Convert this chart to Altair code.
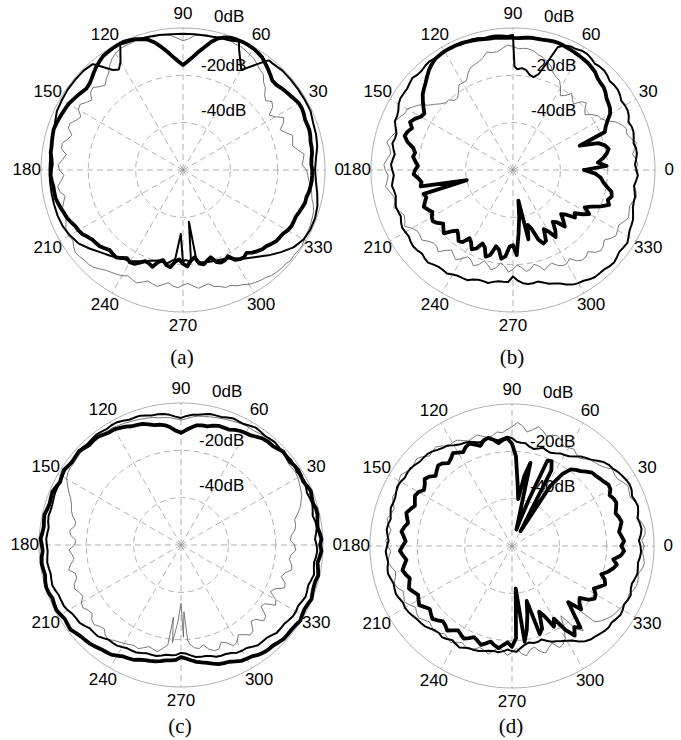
import altair as alt
import numpy as np
import pandas as pd

# ---------------------------------------------------------------------------
# Radiation patterns (dB, 0 dB at the rim, -60 dB at the centre).
# *_THIN / *_MED / *_THICK are sampled at 0, 5, ..., 355 degrees and the
# *_MID lists at 2.5, 7.5, ..., 357.5 degrees.  Each row covers 60 degrees.
# ---------------------------------------------------------------------------
ANGLES = list(range(0, 360, 5))
MID_ANGLES = [a + 2.5 for a in ANGLES]

# (a)
A_THIN = [
    -7.8, -9.0, -10.8, -12.0, -13.8, -13.2, -15.0, -13.8, -14.4, -10.8, -7.2, -5.4,
    -3.6, -2.4, -1.8, -1.8, -2.1, -3.0, -5.4, -3.0, -2.1, -1.8, -1.8, -2.1,
    -3.0, -6.0, -9.6, -10.2, -9.0, -10.2, -9.0, -10.2, -8.4, -9.6, -7.8, -9.0,
    -7.8, -8.4, -7.2, -7.8, -6.0, -5.4, -4.2, -3.6, -3.0, -3.6, -5.4, -7.2,
    -8.4, -9.0, -9.6, -10.2, -10.8, -10.8, -11.4, -10.8, -10.2, -9.0, -7.2, -6.0,
    -4.2, -3.0, -1.8, -1.2, -0.6, -0.6, -0.9, -1.2, -1.8, -3.0, -4.8, -6.6,
]
A_THIN_MID = [
    -9.6, -8.4, -12.6, -11.4, -15.6, -12.0, -16.8, -12.6, -13.2, -9.6, -6.6, -4.2,
    -3.0, -2.4, -1.5, -2.4, -2.4, -4.5, -4.2, -2.4, -2.4, -1.5, -2.1, -2.4,
    -4.2, -8.4, -11.4, -8.4, -11.4, -8.4, -11.4, -8.4, -10.8, -7.8, -10.2, -7.2,
    -9.6, -6.6, -9.0, -6.6, -6.6, -4.2, -4.8, -2.7, -3.6, -4.2, -6.6, -7.8,
    -9.6, -8.4, -10.8, -9.6, -12.0, -10.2, -12.0, -9.6, -10.8, -8.4, -7.2, -5.4,
    -3.6, -2.7, -1.5, -1.2, -0.9, -0.3, -1.2, -1.5, -2.1, -4.2, -5.4, -7.2,
]
A_MED = [
    -4.2, -3.6, -2.4, -1.8, -1.5, -0.6, -0.6, -0.6, -0.6, -0.6, -1.2, -5.4,
    -10.8, -3.9, -1.8, -2.1, -2.4, -2.4, -2.4, -2.4, -2.1, -1.8, -1.5, -1.0,
    -7.2, -8.4, -1.8, -0.6, -0.6, -0.6, -0.9, -1.2, -2.4, -3.0, -3.6, -3.6,
    -3.6, -3.6, -3.6, -3.6, -3.6, -3.9, -4.8, -6.0, -8.4, -10.8, -12.6, -14.4,
    -15.6, -17.4, -19.2, -20.4, -19.8, -22.2, -21.0, -21.0, -20.4, -19.8, -19.2, -18.6,
    -16.8, -14.4, -12.0, -9.0, -6.0, -3.0, -1.2, -0.6, -0.6, -1.2, -2.4, -3.6,
]
A_MED_EXTRA_ANG = [52, 59.5, 66.5, 116.5, 122.5, 130.5, 268, 271.5, 276.5, 278.5]
A_MED_EXTRA_DB = [-1.2, -10.8, -0.8, -0.6, -9.6, -1.2, -33.0, -22.0, -38.0, -21.0]
A_THICK = [
    -5.4, -5.5, -4.8, -4.3, -4.1, -3.7, -3.5, -4.9, -6.0, -6.6, -4.2, -1.8,
    -0.7, -0.3, -0.6, -2.4, -7.2, -12.0, -15.6, -12.0, -7.2, -3.0, -1.2, -0.3,
    -0.6, -1.2, -3.0, -5.4, -6.6, -5.4, -4.2, -3.6, -3.0, -3.0, -3.6, -4.2,
    -4.2, -4.4, -4.8, -5.4, -6.6, -7.8, -9.0, -10.8, -12.0, -13.2, -13.8, -14.6,
    -15.0, -16.8, -18.0, -19.8, -19.2, -21.0, -20.4, -21.6, -19.8, -20.4, -18.6, -18.0,
    -16.2, -15.0, -14.4, -12.6, -11.4, -10.2, -9.0, -8.4, -7.8, -6.6, -6.0, -5.4,
]
A_THICK_MID = [
    -5.7, -5.0, -4.8, -4.0, -4.2, -3.4, -4.2, -5.4, -6.6, -5.4, -3.0, -1.2,
    -0.4, -0.4, -1.2, -4.5, -9.6, -14.0, -14.0, -9.6, -4.8, -2.0, -0.7, -0.4,
    -0.9, -2.1, -4.2, -6.3, -6.0, -4.8, -3.9, -3.3, -2.7, -3.3, -3.6, -4.5,
    -4.0, -4.8, -4.9, -6.0, -7.0, -8.7, -9.6, -11.7, -12.3, -14.1, -13.5, -15.9,
    -15.3, -18.3, -17.1, -21.0, -18.6, -22.2, -19.2, -22.8, -19.2, -21.3, -17.7, -18.9,
    -15.3, -15.9, -13.5, -12.3, -10.5, -9.9, -8.4, -8.4, -7.2, -6.6, -5.7, -5.4,
]

# (b)
B_THIN = [
    -8.4, -7.8, -7.8, -8.4, -9.0, -12.0, -16.8, -19.2, -20.4, -19.2, -21.0, -21.6,
    -19.8, -16.8, -13.2, -10.8, -9.0, -8.4, -7.8, -8.4, -9.6, -10.8, -12.6, -15.0,
    -17.4, -19.8, -21.6, -19.8, -16.8, -12.0, -8.4, -7.2, -7.2, -6.6, -7.2, -6.6,
    -6.0, -6.6, -7.2, -8.4, -9.0, -9.6, -10.8, -12.0, -13.2, -14.4, -15.6, -16.2,
    -16.8, -18.0, -17.4, -18.6, -18.0, -19.2, -18.0, -18.6, -17.4, -18.0, -16.8, -15.6,
    -14.4, -13.2, -12.0, -10.8, -10.2, -9.6, -9.0, -8.4, -7.8, -7.8, -7.2, -7.8,
]
B_THIN_MID = [
    -7.2, -9.0, -6.6, -9.6, -10.2, -15.0, -17.4, -21.6, -18.0, -22.2, -19.2, -22.8,
    -17.4, -15.6, -12.0, -10.2, -8.4, -8.7, -7.2, -9.6, -9.0, -12.0, -13.2, -17.4,
    -17.4, -21.6, -19.8, -18.6, -15.0, -10.2, -8.4, -6.0, -7.8, -5.4, -7.8, -5.4,
    -7.2, -5.7, -8.4, -7.2, -10.2, -8.4, -12.0, -11.4, -14.4, -13.2, -17.4, -15.0,
    -18.6, -16.2, -19.8, -16.8, -20.4, -16.8, -19.8, -16.8, -19.2, -15.6, -17.4, -14.4,
    -15.6, -12.0, -13.2, -9.6, -11.4, -8.4, -9.6, -7.2, -8.4, -6.6, -8.4, -7.2,
]
B_MED = [
    -7.8, -7.8, -7.2, -7.2, -6.6, -6.0, -5.4, -4.8, -4.2, -3.6, -3.0, -2.4,
    -1.8, -2.4, -4.8, -18.0, -19.2, -16.8, -3.0, -3.0, -2.7, -2.4, -2.4, -2.1,
    -2.1, -2.4, -2.4, -3.0, -3.0, -3.6, -4.2, -6.0, -7.2, -8.4, -8.7, -9.0,
    -9.0, -9.0, -9.0, -8.7, -8.4, -7.8, -7.5, -7.2, -7.2, -7.2, -7.8, -8.4,
    -9.0, -9.6, -10.8, -11.4, -12.0, -12.6, -15.0, -12.0, -11.4, -10.8, -9.0, -6.6,
    -4.8, -3.6, -3.0, -2.4, -2.7, -3.0, -3.6, -4.8, -6.0, -7.2, -7.8, -7.8,
]
B_MED_MID = [
    -8.4, -7.2, -7.8, -6.6, -7.2, -5.4, -5.7, -4.2, -4.5, -3.0, -3.3, -1.8,
    -2.4, -3.0, -12.6, -19.8, -17.4, -17.4, -3.3, -2.7, -3.0, -2.1, -2.7, -1.8,
    -2.4, -2.1, -3.0, -2.4, -3.6, -3.6, -5.4, -6.0, -8.4, -7.8, -9.6, -8.4,
    -9.6, -8.4, -9.3, -8.1, -8.7, -7.2, -7.8, -6.9, -7.8, -6.9, -8.4, -8.1,
    -9.6, -9.6, -11.4, -11.1, -12.6, -12.6, -13.2, -11.4, -11.7, -9.6, -8.1, -5.4,
    -4.5, -3.0, -3.0, -2.1, -3.3, -2.7, -4.5, -5.1, -6.9, -7.2, -8.4, -7.2,
]
B_MED_EXTRA_ANG = [89.2]
B_MED_EXTRA_DB = [-16.2]
B_THICK = [
    -30.0, -24.0, -19.8, -19.8, -30.0, -16.8, -12.6, -10.8, -9.0, -7.8, -6.0, -4.8,
    -4.2, -3.6, -3.0, -3.3, -3.6, -3.9, -4.2, -3.9, -3.6, -3.0, -2.4, -2.1,
    -2.1, -2.7, -4.8, -7.8, -10.2, -13.8, -15.0, -12.0, -12.6, -13.8, -18.0, -18.6,
    -18.6, -19.8, -20.4, -21.0, -20.4, -20.4, -20.4, -21.0, -21.6, -23.4, -24.0, -22.8,
    -24.6, -23.4, -25.2, -22.8, -25.8, -23.4, -28.2, -33.0, -46.8, -36.0, -28.8, -27.0,
    -30.0, -28.8, -31.2, -30.0, -30.6, -28.2, -22.8, -23.4, -16.8, -16.8, -19.8, -22.8,
]
B_THICK_MID = [
    -20.4, -21.6, -18.6, -22.2, -18.0, -15.0, -11.4, -10.2, -8.1, -7.2, -5.4, -4.5,
    -3.9, -3.3, -3.0, -3.6, -3.6, -4.2, -4.0, -3.6, -3.3, -2.7, -2.1, -2.1,
    -2.4, -3.6, -6.3, -9.0, -12.0, -15.6, -13.2, -13.8, -12.0, -16.8, -17.4, -19.8,
    -18.0, -21.0, -40.0, -21.6, -19.2, -21.6, -19.8, -22.8, -20.4, -25.2, -22.2, -25.8,
    -22.2, -26.4, -21.6, -27.0, -22.2, -27.6, -24.0, -40.0, -30.0, -34.0, -26.4, -31.8,
    -26.4, -32.4, -27.6, -32.4, -27.0, -25.2, -25.8, -19.8, -18.0, -17.4, -21.6, -25.2,
]

# (c)
C_THIN = [
    -12.0, -13.2, -10.8, -9.0, -6.0, -4.2, -3.0, -3.0, -2.4, -2.4, -2.1, -2.4,
    -2.7, -3.0, -3.6, -4.2, -4.8, -5.7, -7.2, -6.0, -5.4, -4.5, -3.9, -3.3,
    -2.7, -2.7, -2.4, -2.4, -2.7, -3.0, -4.2, -7.8, -10.8, -12.6, -14.4, -13.2,
    -15.0, -13.8, -12.6, -13.8, -12.0, -12.6, -11.4, -12.0, -10.8, -11.4, -10.2, -10.8,
    -12.0, -13.2, -13.8, -14.4, -15.6, -18.6, -35.4, -18.0, -15.6, -14.4, -13.2, -14.4,
    -12.6, -13.8, -12.6, -15.6, -13.2, -16.8, -13.8, -16.2, -13.2, -14.4, -12.6, -13.2,
]
C_THIN_MID = [
    -13.8, -11.4, -10.8, -7.2, -4.8, -3.6, -2.7, -3.0, -2.1, -2.4, -2.1, -2.7,
    -2.7, -3.3, -3.9, -4.5, -5.1, -6.6, -6.6, -5.7, -4.8, -4.2, -3.6, -3.0,
    -2.7, -2.4, -2.4, -2.4, -3.0, -3.3, -6.0, -9.6, -11.4, -14.4, -12.6, -15.6,
    -12.6, -14.4, -11.4, -13.8, -11.4, -13.2, -10.8, -12.6, -10.2, -12.0, -9.6, -11.4,
    -12.6, -12.6, -15.0, -13.8, -17.4, -27.0, -31.8, -16.2, -16.8, -13.2, -15.6, -12.0,
    -15.0, -12.0, -16.2, -12.6, -17.4, -12.6, -17.4, -12.6, -15.6, -12.0, -13.8, -11.4,
]
C_THIN_EXTRA_ANG = [264, 271.5, 274]
C_THIN_EXTRA_DB = [-29.4, -21.0, -19.8]
C_MED = [
    -2.7, -2.7, -2.4, -2.4, -2.1, -1.8, -1.8, -1.5, -1.5, -1.5, -1.5, -1.5,
    -1.8, -2.4, -2.7, -3.3, -3.9, -4.8, -6.3, -4.8, -3.9, -3.3, -2.7, -2.1,
    -1.5, -1.5, -1.5, -1.5, -1.8, -1.8, -2.1, -2.4, -2.7, -3.0, -3.0, -3.3,
    -3.3, -3.3, -3.3, -3.3, -3.6, -4.2, -4.8, -6.0, -6.9, -7.8, -8.7, -9.6,
    -10.2, -10.8, -11.4, -12.0, -12.6, -13.2, -14.4, -13.2, -12.0, -11.4, -10.2, -9.6,
    -8.4, -7.5, -6.6, -6.0, -5.1, -4.5, -3.9, -3.6, -3.3, -3.0, -3.0, -2.7,
]
C_MED_MID = [
    -3.3, -2.1, -3.0, -1.8, -2.4, -1.2, -2.1, -1.2, -1.8, -1.2, -1.8, -1.2,
    -2.4, -2.1, -3.3, -3.3, -4.5, -5.4, -5.7, -4.2, -3.9, -2.7, -2.7, -1.5,
    -1.8, -1.2, -1.8, -1.2, -2.1, -1.8, -2.4, -2.4, -3.0, -2.7, -3.6, -3.0,
    -3.6, -3.0, -3.6, -3.0, -4.2, -4.2, -5.7, -6.0, -7.8, -7.8, -9.6, -9.6,
    -10.8, -10.8, -12.0, -12.0, -13.2, -13.5, -14.1, -12.3, -12.0, -10.5, -10.2, -8.7,
    -8.4, -6.6, -6.6, -5.1, -5.1, -3.9, -4.2, -3.0, -3.6, -2.4, -3.3, -2.4,
]
C_THICK = [
    -1.2, -1.2, -1.5, -0.9, -1.2, -1.2, -1.5, -1.5, -1.8, -2.4, -3.0, -4.2,
    -5.4, -6.3, -7.2, -7.8, -8.7, -10.2, -12.6, -10.2, -8.4, -7.2, -6.0, -4.8,
    -3.6, -3.0, -2.4, -2.1, -1.8, -1.8, -1.8, -1.8, -1.5, -1.5, -1.2, -1.2,
    -1.2, -0.9, -0.9, -0.6, -0.6, -0.9, -1.2, -1.5, -2.1, -3.0, -3.9, -4.8,
    -6.0, -7.2, -8.4, -9.3, -10.2, -11.1, -12.6, -11.1, -9.6, -8.1, -6.9, -5.7,
    -4.5, -3.3, -2.4, -1.8, -1.2, -0.9, -0.9, -0.9, -0.9, -1.2, -1.2, -1.2,
]
C_THICK_MID = [
    -0.6, -1.8, -0.9, -1.5, -0.6, -1.8, -1.2, -2.1, -1.5, -3.0, -3.3, -5.1,
    -5.7, -7.2, -7.2, -8.7, -9.0, -11.4, -11.7, -9.0, -8.1, -6.3, -5.7, -4.2,
    -3.6, -2.4, -2.7, -1.5, -2.1, -1.2, -2.4, -1.2, -1.8, -0.9, -1.5, -0.6,
    -1.5, -0.6, -1.2, -0.3, -1.2, -0.6, -1.8, -1.2, -2.7, -3.3, -4.5, -5.1,
    -6.9, -7.5, -9.0, -9.6, -10.8, -11.4, -12.0, -10.2, -9.0, -7.2, -6.6, -4.8,
    -4.2, -2.7, -2.4, -1.2, -1.2, -0.3, -1.2, -0.3, -1.2, -0.6, -1.8, -0.6,
]

# (d)
D_THIN = [
    -4.2, -3.6, -4.2, -4.8, -4.8, -5.4, -6.0, -7.2, -8.4, -10.2, -12.0, -12.6,
    -12.0, -10.8, -10.2, -9.6, -10.2, -9.0, -9.6, -12.0, -12.6, -12.0, -11.4, -10.8,
    -9.6, -8.4, -7.8, -6.6, -6.0, -5.4, -4.8, -6.0, -6.6, -7.2, -6.9, -7.8,
    -7.5, -7.8, -8.4, -9.0, -8.4, -9.6, -10.2, -10.8, -11.4, -12.0, -12.0, -12.6,
    -12.6, -13.2, -13.8, -14.4, -15.0, -15.6, -15.0, -14.4, -15.6, -13.8, -14.4, -12.6,
    -15.0, -24.0, -13.2, -27.0, -10.8, -8.4, -7.2, -6.0, -5.4, -4.8, -4.2, -4.2,
]
D_THIN_MID = [
    -5.1, -3.3, -5.4, -3.9, -6.0, -4.8, -7.2, -6.6, -9.6, -10.8, -13.2, -11.4,
    -12.6, -9.6, -11.4, -8.4, -11.4, -7.8, -10.8, -11.4, -13.2, -10.8, -12.0, -9.6,
    -10.2, -7.2, -8.4, -5.4, -6.6, -4.2, -6.0, -5.4, -7.8, -6.0, -8.4, -6.6,
    -8.7, -7.2, -9.6, -7.8, -10.2, -8.7, -11.7, -10.2, -12.6, -11.1, -13.2, -11.7,
    -14.1, -12.6, -15.0, -13.2, -16.8, -13.8, -16.8, -13.2, -16.2, -12.6, -15.6, -13.2,
    -19.2, -16.2, -20.4, -12.6, -9.6, -7.8, -6.6, -6.6, -4.8, -5.4, -3.6, -4.8,
]
D_MED = [
    -5.7, -5.4, -5.1, -4.8, -4.5, -4.2, -4.2, -5.4, -6.6, -9.0, -11.4, -13.8,
    -15.6, -16.8, -17.1, -17.4, -17.4, -16.2, -14.4, -14.4, -14.1, -13.8, -13.2, -12.0,
    -10.8, -9.3, -7.8, -7.2, -6.6, -6.0, -5.7, -6.0, -6.6, -6.9, -6.9, -7.2,
    -7.2, -6.9, -6.6, -6.9, -7.2, -7.5, -7.8, -8.7, -9.6, -10.8, -12.0, -12.0,
    -12.3, -12.6, -13.2, -14.1, -15.0, -15.3, -15.6, -16.8, -18.6, -18.0, -17.4, -15.6,
    -13.8, -10.8, -8.4, -7.5, -6.6, -6.3, -6.0, -6.0, -6.6, -6.3, -6.0, -5.7,
]
D_MED_MID = [
    -6.3, -4.8, -5.7, -4.2, -5.1, -3.9, -4.8, -6.3, -7.5, -10.5, -12.3, -15.0,
    -15.9, -17.4, -16.5, -18.0, -16.2, -15.9, -13.8, -15.0, -13.5, -14.1, -12.3, -11.7,
    -9.6, -8.7, -7.2, -7.2, -6.0, -6.3, -5.4, -6.6, -6.3, -7.5, -6.6, -7.8,
    -6.6, -7.2, -6.3, -7.5, -6.9, -8.1, -8.1, -9.3, -9.9, -11.7, -11.4, -12.9,
    -11.7, -13.2, -13.5, -14.7, -14.7, -16.2, -15.3, -18.0, -18.0, -18.6, -16.2, -14.7,
    -12.6, -9.3, -8.1, -6.9, -6.9, -5.7, -6.6, -5.7, -6.9, -5.7, -6.3, -5.4,
]
D_THICK = [
    -13.8, -13.5, -13.5, -13.2, -13.2, -12.6, -12.0, -12.6, -13.8, -15.6, -18.0, -22.8,
    -52.8, -20.4, -39.0, -52.8, -30.0, -33.0, -16.8, -15.0, -14.4, -13.8, -14.4, -13.8,
    -14.4, -15.0, -14.4, -15.0, -14.4, -15.0, -14.4, -14.7, -14.4, -14.1, -13.8, -14.1,
    -13.8, -13.8, -13.8, -13.5, -13.8, -14.1, -14.4, -15.0, -15.3, -15.6, -16.2, -16.5,
    -16.8, -17.1, -17.4, -17.4, -17.4, -18.0, -17.4, -42.0, -24.0, -36.0, -22.8, -27.0,
    -24.6, -13.8, -15.0, -26.4, -22.8, -20.4, -19.2, -19.2, -18.3, -18.0, -15.0, -13.8,
]
D_THICK_MID = [
    -12.6, -14.4, -12.6, -14.1, -12.3, -13.5, -11.7, -13.2, -14.1, -17.1, -19.2, -30.0,
    -24.0, -21.0, -48.0, -24.0, -40.0, -22.0, -14.4, -16.2, -13.2, -15.6, -13.2, -15.3,
    -13.5, -15.9, -13.8, -16.2, -13.5, -15.9, -13.8, -15.6, -13.2, -15.0, -12.9, -15.0,
    -12.6, -15.0, -12.6, -14.7, -12.9, -15.3, -13.5, -16.2, -14.4, -16.8, -15.0, -17.7,
    -15.9, -18.3, -16.2, -18.6, -16.5, -19.2, -21.0, -19.2, -30.0, -21.0, -30.0, -21.6,
    -18.0, -16.8, -21.6, -20.4, -24.0, -18.6, -21.0, -17.4, -20.4, -16.2, -16.8, -12.6,
]

CAPTIONS = ["(a)", "(b)", "(c)", "(d)"]
ANGLE_TICKS = list(range(0, 360, 30))
RING_LEVELS = [-40, -20]          # dashed rings
RING_LABELS = ["0dB", "-20dB", "-40dB"]

# ---------------------------------------------------------------------------
# Layout (pixels)
# ---------------------------------------------------------------------------
W, H = 681, 740
R = 142.0                      # radius of the 0 dB rim
DB_MIN = -60.0
CENTERS = {"a": (183, 170), "b": (513, 170), "c": (181, 545), "d": (512, 546)}
CAPTION_BASE = {"a": 364, "b": 364, "c": 733, "d": 733}
RING_LABEL_OFFS = [(31, 148), (18, 99), (18, 54)]
DASH = [6, 4]


def radius(db):
    return (np.asarray(db, float) - DB_MIN) / (-DB_MIN) * R


def trace(panel, style, values, mid=(), extra_ang=(), extra_db=()):
    ang = np.array(ANGLES + (MID_ANGLES if len(mid) else []) + list(extra_ang), float)
    val = np.array(list(values) + list(mid) + list(extra_db), float)
    order = np.argsort(ang, kind="stable")
    ang, val = ang[order], val[order]
    ang = np.append(ang, ang[0] + 360)
    val = np.append(val, val[0])
    cx, cy = CENTERS[panel]
    r = radius(val)
    t = np.deg2rad(ang)
    return pd.DataFrame({
        "key": f"{panel}-{style}", "style": style, "i": np.arange(len(ang)),
        "x": cx + r * np.cos(t), "y": cy - r * np.sin(t),
    })


series = pd.concat([
    trace("a", "thin", A_THIN, A_THIN_MID),
    trace("a", "med", A_MED, (), A_MED_EXTRA_ANG, A_MED_EXTRA_DB),
    trace("a", "thick", A_THICK, A_THICK_MID),
    trace("b", "thin", B_THIN, B_THIN_MID),
    trace("b", "med", B_MED, B_MED_MID, B_MED_EXTRA_ANG, B_MED_EXTRA_DB),
    trace("b", "thick", B_THICK, B_THICK_MID),
    trace("c", "thin", C_THIN, C_THIN_MID, C_THIN_EXTRA_ANG, C_THIN_EXTRA_DB),
    trace("c", "med", C_MED, C_MED_MID),
    trace("c", "thick", C_THICK, C_THICK_MID),
    trace("d", "thin", D_THIN, D_THIN_MID),
    trace("d", "med", D_MED, D_MED_MID),
    trace("d", "thick", D_THICK, D_THICK_MID),
], ignore_index=True)

# polar grid: rim, dashed rings, dashed spokes, labels
circ_t = np.deg2rad(np.arange(0, 361, 2))
rim_rows, ring_rows, spoke_rows, tick_rows, lab_rows, cap_rows = [], [], [], [], [], []
for p, (cx, cy) in CENTERS.items():
    for k, t in enumerate(circ_t):
        rim_rows.append({"key": p, "i": k, "x": cx + R * np.cos(t), "y": cy - R * np.sin(t)})
        for lv in RING_LEVELS:
            rr = float(radius(lv))
            ring_rows.append({"key": f"{p}{lv}", "i": k,
                              "x": cx + rr * np.cos(t), "y": cy - rr * np.sin(t)})
    for a in ANGLE_TICKS:
        t = np.deg2rad(a)
        spoke_rows.append({"x": cx, "y": cy, "x2": cx + R * np.cos(t), "y2": cy - R * np.sin(t)})
        tick_rows.append({"x": cx + 1.1 * R * np.cos(t), "y": cy - 1.1 * R * np.sin(t),
                          "text": str(a)})
    for txt, (dx, dy) in zip(RING_LABELS, RING_LABEL_OFFS):
        lab_rows.append({"x": cx + dx, "y": cy - dy, "text": txt})
for p, txt in zip(CENTERS, CAPTIONS):
    cap_rows.append({"x": CENTERS[p][0] - 1, "y": CAPTION_BASE[p], "text": txt})

X = alt.X("x:Q", scale=alt.Scale(domain=[0, W], nice=False, zero=False), axis=None)
Y = alt.Y("y:Q", scale=alt.Scale(domain=[0, H], nice=False, zero=False, reverse=True), axis=None)

rim = alt.Chart(pd.DataFrame(rim_rows)).mark_line(color="#9c9c9c", strokeWidth=0.8).encode(
    x=X, y=Y, detail="key:N", order="i:Q")
rings = alt.Chart(pd.DataFrame(ring_rows)).mark_line(
    color="#8f8f8f", strokeWidth=0.7, strokeDash=DASH).encode(x=X, y=Y, detail="key:N", order="i:Q")
spokes = alt.Chart(pd.DataFrame(spoke_rows)).mark_rule(
    color="#8f8f8f", strokeWidth=0.7, strokeDash=DASH).encode(x=X, y=Y, x2="x2:Q", y2="y2:Q")
ticks = alt.Chart(pd.DataFrame(tick_rows)).mark_text(
    font="Liberation Sans", fontSize=17, color="black", align="center", baseline="middle"
).encode(x=X, y=Y, text="text:N")
ring_labels = alt.Chart(pd.DataFrame(lab_rows)).mark_text(
    font="Liberation Sans", fontSize=17, color="black", align="left", baseline="alphabetic"
).encode(x=X, y=Y, text="text:N")
captions = alt.Chart(pd.DataFrame(cap_rows)).mark_text(
    font="Liberation Serif", fontSize=21, color="black", align="center", baseline="alphabetic"
).encode(x=X, y=Y, text="text:N")


def pattern(style, color, width):
    return alt.Chart(series[series["style"] == style]).mark_line(
        color=color, strokeWidth=width, strokeJoin="round", strokeCap="round"
    ).encode(x=X, y=Y, detail="key:N", order="i:Q")


chart = alt.layer(
    rings, spokes, rim, ticks, ring_labels,
    pattern("thin", "#6a6a6a", 0.9),
    pattern("med", "black", 2.0),
    pattern("thick", "black", 3.8),
    captions,
).properties(
    width=W, height=H, padding=0,
    autosize=alt.AutoSizeParams(type="fit", contains="padding"),
).configure_view(stroke=None)

chart.save("out.html", embed_options={"renderer": "svg", "actions": False})
